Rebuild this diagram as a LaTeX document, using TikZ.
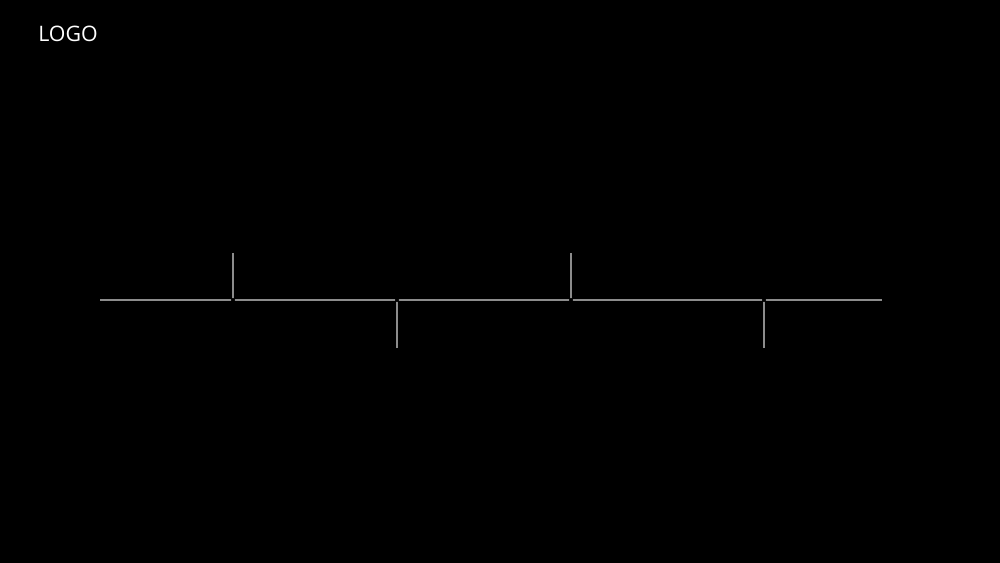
\documentclass[tikz,border=0pt]{standalone}
\usepackage{fontspec}
\setmainfont{Open Sans}
\begin{document}
\begin{tikzpicture}[x=0.75pt,y=-0.75pt,
  tl/.style={draw=white!55!black,line width=0.8pt},
  dot/.style={circle,fill=black,inner sep=0pt,minimum size=3pt},
  logo/.style={text=white,font=\fontsize{16}{18}\selectfont,anchor=base west,inner sep=0pt}]
\fill[black] (0,0) rectangle (1000,563);
\useasboundingbox (0,0) rectangle (1000,563);
\node[logo] (logo) at (38,42) {LOGO};
\coordinate (s) at (100,300);
\coordinate (e) at (882,300);
\coordinate (t1) at (233,253);
\coordinate (t2) at (397,348);
\coordinate (t3) at (571,253);
\coordinate (t4) at (764,348);
\draw[tl] (s) -- (e);
\draw[tl] (t1) -- (t1 |- s);
\draw[tl] (t2) -- (t2 |- s);
\draw[tl] (t3) -- (t3 |- s);
\draw[tl] (t4) -- (t4 |- s);
\node[dot] (d1) at (t1 |- s) {};
\node[dot] (d2) at (t2 |- s) {};
\node[dot] (d3) at (t3 |- s) {};
\node[dot] (d4) at (t4 |- s) {};
\end{tikzpicture}
\end{document}
